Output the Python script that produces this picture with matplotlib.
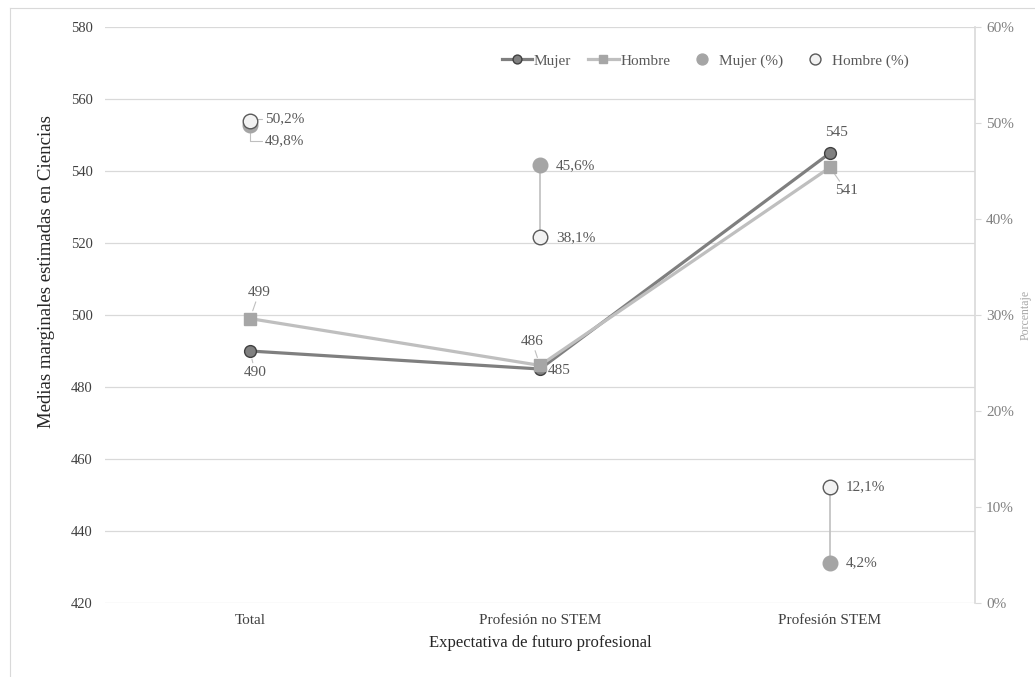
import numpy as np
import matplotlib.pyplot as plt
from matplotlib.lines import Line2D

plt.rcParams['font.family'] = ['Liberation Serif', 'DejaVu Serif']

categorias = ['Total', 'Profesión no STEM', 'Profesión STEM']
mujer = [490, 485, 545]
hombre = [499, 486, 541]
mujer_pct = [49.8, 45.6, 4.2]
hombre_pct = [50.2, 38.1, 12.1]

x = np.arange(len(categorias))

fig = plt.figure(figsize=(10.35, 6.77), dpi=100)
ax = fig.add_axes([105 / 1035, 74 / 677, 870 / 1035, 576 / 677])
ax2 = ax.twinx()

# borde exterior
fig.add_artist(Line2D([10 / 1035, 1.0], [1 - 8 / 677, 1 - 8 / 677], color='#d9d9d9', lw=0.8))
fig.add_artist(Line2D([10 / 1035, 10 / 1035], [0, 1 - 8 / 677], color='#d9d9d9', lw=0.8))

# eje principal
ax.set_xlim(-0.5, 2.5)
ax.set_ylim(420, 580)
ax.set_yticks(np.arange(420, 581, 20))
ax.grid(axis='y', color='#d9d9d9', lw=0.9)
ax.set_axisbelow(True)
for s in ['top', 'right', 'left', 'bottom']:
    ax.spines[s].set_visible(False)
ax.tick_params(axis='both', length=0, labelsize=10.5, labelcolor='#404040')
ax.tick_params(axis='y', pad=9)
ax.tick_params(axis='x', pad=8)
ax.set_xticks(x)
ax.set_xticklabels(categorias, fontsize=11)
ax.set_xlabel('Expectativa de futuro profesional', fontsize=12, color='#262626', labelpad=6)
ax.set_ylabel('Medias marginales estimadas en Ciencias', fontsize=13.5, color='#262626')
ax.yaxis.set_label_coords(-0.058, 0.576)

ax.plot(x, mujer, color='#7f7f7f', lw=2.3, marker='o', ms=8.5,
        mfc='#808080', mec='#404040', mew=1.0, zorder=3, label='Mujer')
ax.plot(x, hombre, color='#bfbfbf', lw=2.3, marker='s', ms=8,
        mfc='#a6a6a6', mec='#a6a6a6', zorder=4, label='Hombre')

# eje secundario
ax2.set_ylim(0, 60)
ax2.set_yticks(np.arange(0, 61, 10))
ax2.set_yticklabels([f'{v}%' for v in range(0, 61, 10)])
for s in ['top', 'left', 'bottom']:
    ax2.spines[s].set_visible(False)
ax2.spines['right'].set_color('#d9d9d9')
ax2.spines['right'].set_linewidth(1.2)
ax2.tick_params(axis='y', direction='out', length=4, color='#d9d9d9',
                labelsize=11, labelcolor='#808080', pad=4)
ax2.set_ylabel('Porcentaje', fontsize=8.5, color='#a6a6a6')
ax2.yaxis.set_label_coords(1.051, 0.5)

for xi, a, b in zip(x[1:], mujer_pct[1:], hombre_pct[1:]):
    ax2.plot([xi, xi], [a, b], color='#bfbfbf', lw=1.2, zorder=2)
ax2.plot(x, mujer_pct, ls='none', marker='o', ms=10.5, mfc='#a5a5a5', mec='#a5a5a5', zorder=5,
         label='Mujer (%)')
ax2.plot(x, hombre_pct, ls='none', marker='o', ms=10.5, mfc='#f2f2f2', mec='#595959', mew=1.0, zorder=5,
         label='Hombre (%)')

px = 72 / 100  # puntos por pixel
lab = dict(fontsize=11, color='#595959', textcoords='offset points')
lead = dict(arrowstyle='-', color='#bfbfbf', lw=0.8, shrinkA=0, shrinkB=6)

def etiqueta(axe, texto, xy, dx, dy, ha='center', leader=False, conn='arc3'):
    kw = dict(lab)
    if leader:
        p = dict(lead)
        p['connectionstyle'] = conn
        kw['arrowprops'] = p
    axe.annotate(texto, xy=xy, xytext=(dx * px, -dy * px), ha=ha, va='center', **kw)

etiqueta(ax, str(mujer[0]), (x[0], mujer[0]), 5, 21, leader=True)
etiqueta(ax, str(hombre[0]), (x[0], hombre[0]), 9, -26, leader=True)
etiqueta(ax, str(hombre[1]), (x[1], hombre[1]), -8, -24, leader=True)
etiqueta(ax, str(mujer[1]), (x[1], mujer[1]), 8, 1, ha='left')
etiqueta(ax, str(mujer[2]), (x[2], mujer[2]), 6, -21)
etiqueta(ax, str(hombre[2]), (x[2], hombre[2]), 16, 23, leader=True)

def pct(v):
    return f'{v:.1f}%'.replace('.', ',')

etiqueta(ax2, pct(hombre_pct[0]), (x[0], hombre_pct[0]), 15, -2, ha='left', leader=True,
         conn='angle,angleA=0,angleB=-60,rad=0')
etiqueta(ax2, pct(mujer_pct[0]), (x[0], mujer_pct[0]), 15, 16, ha='left', leader=True,
         conn='angle,angleA=0,angleB=90,rad=0')
for xi in x[1:]:
    etiqueta(ax2, pct(mujer_pct[xi]), (xi, mujer_pct[xi]), 16, 0, ha='left')
    etiqueta(ax2, pct(hombre_pct[xi]), (xi, hombre_pct[xi]), 16, 0, ha='left')

h1, l1 = ax.get_legend_handles_labels()
h2, l2 = ax2.get_legend_handles_labels()
leg = ax.legend(h1 + h2, l1 + l2, ncol=4, loc='center', bbox_to_anchor=(0.69, 0.941),
                frameon=False, fontsize=11, handlelength=2.0, handletextpad=0.1,
                columnspacing=1.1, markerscale=0.75, labelcolor='#595959')
leg.set_zorder(10)

fig.savefig('out.png', dpi=100)
